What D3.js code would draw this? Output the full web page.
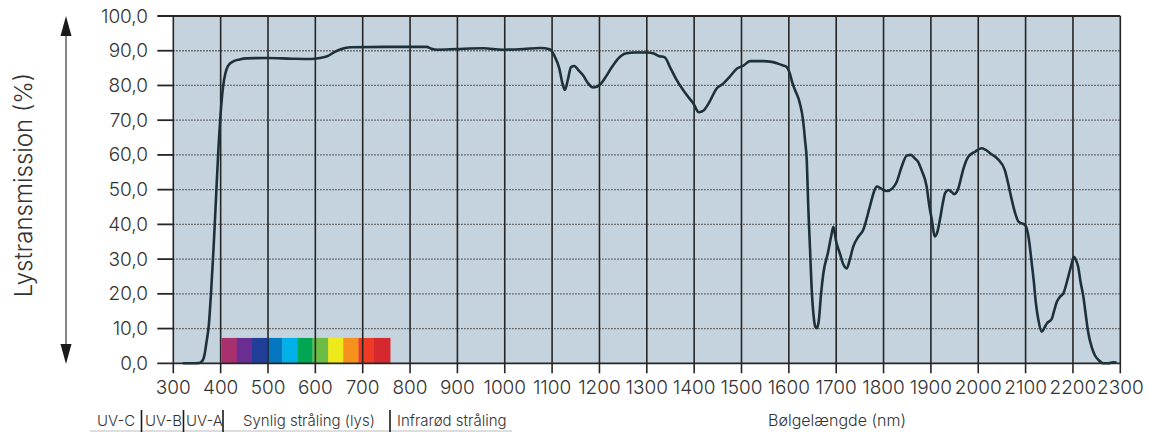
<!DOCTYPE html>
<html>
<head>
<meta charset="utf-8">
<script src="https://cdn.jsdelivr.net/npm/d3@7"></script>
<style>
  html, body { margin: 0; padding: 0; background: #ffffff; }
  svg { display: block; }
  text { font-family: Inter, "Open Sans", sans-serif; font-weight: 300; fill: #333; }
</style>
</head>
<body>
<svg id="chart" width="1152" height="432"></svg>
<script>
// Wavelength (nm) and light transmission (%) of the glass
const wavelength = [
  320, 340, 355, 362, 366, 370, 375, 380, 385, 390, 395, 400, 405, 410, 415, 425, 440, 455,
  500, 550, 590, 610, 625, 640, 655, 675, 750, 835, 845, 858, 900, 955, 995, 1040, 1075, 1095,
  1105, 1115, 1122, 1127, 1133, 1140, 1147, 1155, 1165, 1175, 1187, 1200, 1212, 1225, 1240,
  1255, 1275, 1300, 1315, 1325, 1338, 1350, 1363, 1384, 1398, 1410, 1420, 1430, 1448, 1462,
  1475, 1490, 1504, 1518, 1545, 1564, 1585, 1595, 1602, 1608, 1613, 1623, 1630, 1634, 1638,
  1641, 1645, 1648, 1652, 1656, 1659, 1663, 1668, 1673, 1683, 1690, 1694, 1700, 1708, 1715,
  1722, 1729, 1736, 1747, 1757, 1771, 1780, 1786, 1795, 1807, 1818, 1828, 1838, 1849, 1858,
  1866, 1873, 1880, 1891, 1897, 1902, 1908, 1914, 1919, 1925, 1930, 1937, 1944, 1949, 1958,
  1963, 1968, 1979, 1993, 2007, 2015, 2025, 2042, 2056, 2062, 2067, 2078, 2085, 2092, 2099,
  2106, 2112, 2117, 2122, 2127, 2134, 2140, 2145, 2155, 2160, 2166, 2173, 2180, 2190, 2196,
  2202, 2206, 2211, 2216, 2222, 2228, 2232, 2240, 2246, 2255, 2264, 2275, 2285, 2292
];
const transmission = [
  0, 0, 0.1, 0.8, 2.5, 6, 11, 21, 33, 47, 61, 72, 79.5, 83.5, 85.5, 86.8, 87.5, 87.8,
  87.9, 87.7, 87.6, 87.9, 88.4, 89.6, 90.5, 91, 91.1, 91.1, 90.6, 90.3, 90.5, 90.7, 90.3, 90.5, 90.8, 90.4,
  88.5, 85, 80.5, 78.7, 81.5, 85.3, 85.6, 84.5, 83, 80.8, 79.4, 80.1, 82.2, 85, 87.8,
  89.2, 89.5, 89.5, 89.2, 88.5, 88.1, 85, 81.6, 77.3, 74.9, 72.3, 72.8, 74.7, 79.2, 80.6,
  82.5, 84.8, 85.7, 87, 87, 86.8, 85.9, 85.4, 83.5, 80.5, 78.7, 75, 70, 64.5, 58,
  45, 32, 22, 14, 10.5, 10.1, 12, 20, 26, 32.1, 37, 39.3, 35, 31.5, 28.5,
  27.3, 30, 33.6, 36.5, 38.4, 45.1, 49.5, 50.9, 50.3, 49.6, 50.3, 52.3, 56.5, 59.8, 60,
  59, 58, 55.7, 50.9, 45, 41.3, 36.5, 38, 41.3, 46, 49, 49.9, 49.3, 48.7, 50.4,
  53, 55.7, 59.5, 60.9, 61.9, 61.5, 60.5, 58.7, 55.7, 52.5, 49.4, 43.2, 40.8, 40.3, 39.8,
  36.5, 30, 24, 17, 12.5, 9.1, 10.3, 11.5, 12.7, 15, 17.7, 19.2, 20.2, 24.9, 28,
  30.7, 29.8, 27.8, 23.5, 19.2, 13, 9.1, 4.5, 2.4, 0.8, 0, 0, 0.3, 0.2
];

// Axis ticks
const xTicks = d3.range(300, 2301, 100);
const yTicks = d3.range(0, 101, 10);

// Visible spectrum band: edges (nm), colours and band height (%)
const spectrumEdges = [402, 434, 466, 498, 530, 562, 594, 627, 659, 691, 723, 758];
const spectrumColors = ["#a9306f", "#6a2d91", "#213e98", "#0377bf", "#00b1e9", "#00a651",
                        "#6bbd45", "#eee91a", "#f7911e", "#ef3b24", "#d6282f"];
const spectrumHeight = 7.3;

// Radiation regions along the bottom
const regionLabels = ["UV-C", "UV-B", "UV-A", "Synlig stråling (lys)", "Infrarød stråling"];
const xTitle = "Bølgelængde (nm)";
const yTitle = "Lystransmission (%)";

const svg = d3.select("#chart");
const plotLeft = 173.3, plotRight = 1120.3, plotTop = 16, plotBottom = 363.3;

const x = d3.scaleLinear().domain([300, 2300]).range([plotLeft, plotRight]);
const y = d3.scaleLinear().domain([0, 100]).range([plotBottom, plotTop]);

const commaFmt = d3.formatLocale({ decimal: ",", thousands: ".", grouping: [3], currency: ["", ""] }).format(".1f");

// Plot background
svg.append("rect")
  .attr("x", plotLeft).attr("y", plotTop)
  .attr("width", plotRight - plotLeft).attr("height", plotBottom - plotTop)
  .attr("fill", "#c5d3de");

// Spectrum band
svg.append("g").selectAll("rect")
  .data(spectrumColors)
  .join("rect")
  .attr("x", (d, i) => x(spectrumEdges[i]))
  .attr("width", (d, i) => x(spectrumEdges[i + 1]) - x(spectrumEdges[i]) + 0.3)
  .attr("y", y(spectrumHeight))
  .attr("height", y(0) - y(spectrumHeight))
  .attr("fill", d => d);

// Horizontal dotted grid lines
svg.append("g").selectAll("line")
  .data(yTicks.filter(v => v > 0 && v < 100))
  .join("line")
  .attr("x1", plotLeft).attr("x2", plotRight)
  .attr("y1", d => y(d)).attr("y2", d => y(d))
  .attr("stroke", "#3a3a3a")
  .attr("stroke-width", 1.3)
  .attr("stroke-dasharray", "1.3,1.7");

// Vertical grid lines (continuing below the axis as ticks)
svg.append("g").selectAll("line")
  .data(xTicks)
  .join("line")
  .attr("x1", d => x(d)).attr("x2", d => x(d))
  .attr("y1", plotTop).attr("y2", plotBottom + 10)
  .attr("stroke", "#262626")
  .attr("stroke-width", 1.6);

// Left ticks, top edge and baseline
svg.append("g").selectAll("line")
  .data(yTicks)
  .join("line")
  .attr("x1", plotLeft - 16)
  .attr("x2", d => (d === 0 || d === 100) ? plotRight : plotLeft)
  .attr("y1", d => y(d)).attr("y2", d => y(d))
  .attr("stroke", "#262626")
  .attr("stroke-width", 1.8);

// Transmission curve
const line = d3.line()
  .x((d, i) => x(wavelength[i]))
  .y(d => y(d))
  .curve(d3.curveMonotoneX);

svg.append("path")
  .datum(transmission)
  .attr("d", line)
  .attr("fill", "none")
  .attr("stroke", "#1d313b")
  .attr("stroke-width", 2.6)
  .attr("stroke-linejoin", "round");

// Y tick labels
svg.append("g").selectAll("text")
  .data(yTicks)
  .join("text")
  .attr("x", 148)
  .attr("y", d => y(d) + 6.5)
  .attr("text-anchor", "end")
  .attr("font-size", 19)
  .text(d => commaFmt(d));

// X tick labels
svg.append("g").selectAll("text")
  .data(xTicks)
  .join("text")
  .attr("x", d => x(d))
  .attr("y", 394)
  .attr("text-anchor", "middle")
  .attr("font-size", 19)
  .text(d => d);

// Double-headed arrow for the y axis
svg.append("line")
  .attr("x1", 66).attr("x2", 66)
  .attr("y1", 30).attr("y2", 350)
  .attr("stroke", "#555").attr("stroke-width", 1.4);
svg.append("path")
  .attr("d", "M66,16 L71.5,36 L60.5,36 Z")
  .attr("fill", "#1a1a1a");
svg.append("path")
  .attr("d", "M66,364 L71.5,344 L60.5,344 Z")
  .attr("fill", "#1a1a1a");

// Y axis title
svg.append("text")
  .attr("transform", "translate(32,185) rotate(-90)")
  .attr("text-anchor", "middle")
  .attr("font-size", 24)
  .text(yTitle);

// Region labels with separators
const regionX = [97, 145, 186, 243, 397];
const separatorX = [141.5, 183.5, 223, 390];
svg.append("line")
  .attr("x1", 90).attr("x2", 512)
  .attr("y1", 431).attr("y2", 431)
  .attr("stroke", "#bbbbbb").attr("stroke-width", 1);
svg.append("g").selectAll("text")
  .data(regionLabels)
  .join("text")
  .attr("x", (d, i) => regionX[i])
  .attr("y", 426)
  .attr("font-size", 15)
  .text(d => d);
svg.append("g").selectAll("line")
  .data(separatorX)
  .join("line")
  .attr("x1", d => d).attr("x2", d => d)
  .attr("y1", 410).attr("y2", 432)
  .attr("stroke", "#1a1a1a").attr("stroke-width", 1.6);

// X axis title
svg.append("text")
  .attr("x", 837)
  .attr("y", 426)
  .attr("text-anchor", "middle")
  .attr("font-size", 16)
  .text(xTitle);
</script>
</body>
</html>
